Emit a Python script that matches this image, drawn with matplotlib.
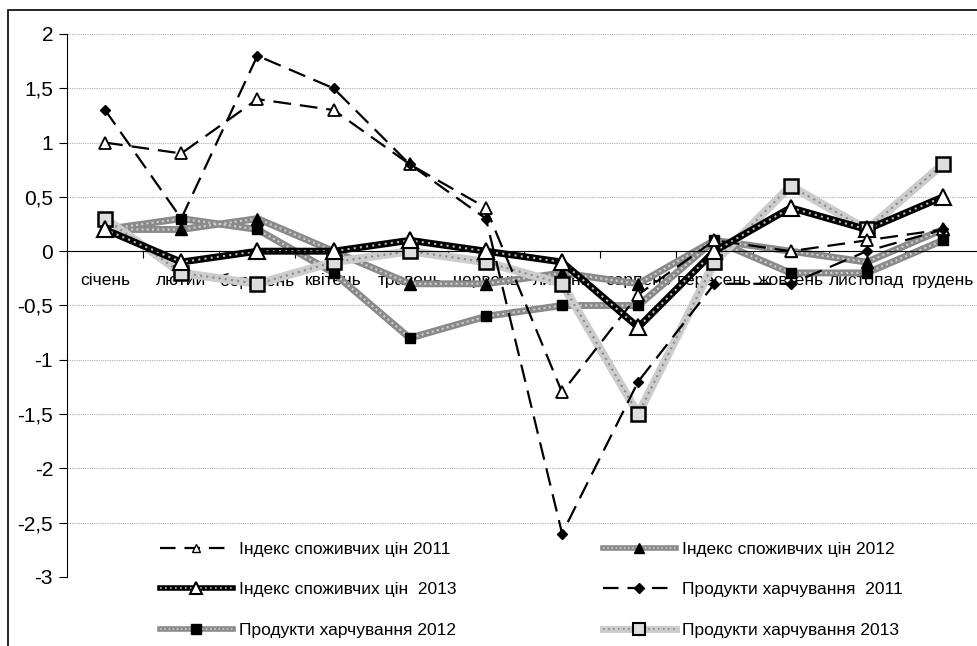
import matplotlib
matplotlib.use("Agg")
import numpy as np
from matplotlib import pyplot as plt
from matplotlib.lines import Line2D
from matplotlib.patches import Rectangle
from matplotlib.legend_handler import HandlerTuple

months = ["січень", "лютий", "березень", "квітень", "травень", "червень",
          "липень", "серпень", "вересень", "жовтень", "листопад", "грудень"]

isc_2011 = [1.0, 0.9, 1.4, 1.3, 0.8, 0.4, -1.3, -0.4, 0.1, 0.0, 0.1, 0.2]
isc_2012 = [0.2, 0.2, 0.3, 0.0, -0.3, -0.3, -0.2, -0.3, 0.1, 0.0, -0.1, 0.2]
isc_2013 = [0.2, -0.1, 0.0, 0.0, 0.1, 0.0, -0.1, -0.7, 0.0, 0.4, 0.2, 0.5]
food_2011 = [1.3, 0.3, 1.8, 1.5, 0.8, 0.3, -2.6, -1.2, -0.3, -0.3, 0.0, 0.2]
food_2012 = [0.2, 0.3, 0.2, -0.2, -0.8, -0.6, -0.5, -0.5, 0.1, -0.2, -0.2, 0.1]
food_2013 = [0.3, -0.2, -0.3, -0.1, 0.0, -0.1, -0.3, -1.5, -0.1, 0.6, 0.2, 0.8]

y_ticks = [2, 1.5, 1, 0.5, 0, -0.5, -1, -1.5, -2, -2.5, -3]

plt.rcParams['font.family'] = ['Liberation Sans', 'DejaVu Sans']

GRAY = "#8a8a8a"
GRAY_DOT = "#cfcfcf"
LIGHT = "#cccccc"


def main():
    fig = plt.figure(figsize=(9.78, 6.46), dpi=100)
    ax = fig.add_axes([67 / 978, 1 - 577 / 646, 914 / 978, 543 / 646])

    # рамка діаграми (обрізана справа і знизу)
    fig.patches.append(Rectangle((8 / 978, -0.1), 1.2, 1 - 10 / 646 + 0.1,
                                 transform=fig.transFigure, fill=False,
                                 edgecolor="black", linewidth=1.2))

    x = np.arange(len(months))

    # лінії
    ax.plot(x, food_2012, color=GRAY, lw=5, solid_capstyle="butt", zorder=2)
    ax.plot(x, food_2012, color=GRAY_DOT, lw=1.5, ls=(0, (1, 1.5)), zorder=2.1)
    ax.plot(x, isc_2012, color=GRAY, lw=5, solid_capstyle="butt", zorder=2)
    ax.plot(x, isc_2012, color=GRAY_DOT, lw=1.5, ls=(0, (1, 1.5)), zorder=2.1)
    ax.plot(x, food_2013, color=LIGHT, lw=6, solid_capstyle="butt", zorder=2.2)
    ax.plot(x, food_2013, color=GRAY, lw=1.5, ls=(0, (1, 2)), zorder=2.3)
    ax.plot(x, isc_2013, color="black", lw=5, solid_capstyle="butt", zorder=2.4)
    ax.plot(x, isc_2013, color="#bbbbbb", lw=1.5, ls=(0, (1, 2)), zorder=2.5)
    ax.plot(x, isc_2011, color="black", lw=1.6, ls=(0, (8, 4)), zorder=2.6)
    ax.plot(x, food_2011, color="black", lw=1.6, ls=(0, (8, 4)), zorder=2.6)

    # маркери
    ax.plot(x, food_2012, ls="none", marker="s", ms=7, mfc="black", mec="black", zorder=3)
    ax.plot(x, isc_2012, ls="none", marker="^", ms=8, mfc="black", mec="black", zorder=3)
    ax.plot(x, food_2013, ls="none", marker="s", ms=10, mfc="#dddddd", mec="black", mew=1.8, zorder=3)
    ax.plot(x, isc_2013, ls="none", marker="^", ms=11, mfc="white", mec="black", mew=1.5, zorder=3)
    ax.plot(x, isc_2011, ls="none", marker="^", ms=9, mfc="white", mec="black", mew=1.3, zorder=3)
    ax.plot(x, food_2011, ls="none", marker="D", ms=5.5, mfc="black", mec="black", zorder=3)

    ax.set_xlim(-0.5, len(months) - 0.5)
    ax.set_ylim(-3, 2)

    ax.spines['top'].set_visible(False)
    ax.spines['right'].set_visible(False)
    ax.spines['bottom'].set_position(('data', 0))

    ax.set_xticks(np.arange(-0.5, len(months) + 0.5, 1))
    ax.set_xticklabels([])
    ax.set_xticks(x, minor=True)
    ax.set_xticklabels(months, minor=True, fontsize=12.5)
    ax.tick_params(axis='x', which='minor', length=0, pad=16)
    ax.tick_params(axis='x', which='major', length=5, direction='out')

    ax.set_yticks(y_ticks)
    ax.set_yticklabels([("%g" % v).replace(".", ",") for v in y_ticks], fontsize=15)
    ax.tick_params(axis='y', length=6, direction='out', pad=4)
    ax.grid(axis='y', color="#b0b0b0", ls=(0, (1, 1)), lw=0.8)
    ax.set_axisbelow(True)

    # легенда
    h_isc11 = Line2D([], [], color="black", lw=1.6, ls=(0, (7, 4)), marker="^", ms=6, mfc="white", mec="black")
    h_isc12 = (Line2D([], [], color=GRAY, lw=4),
               Line2D([], [], color=GRAY_DOT, lw=1.2, ls=(0, (1, 1.5)), marker="^", ms=7, mfc="black", mec="black"))
    h_isc13 = (Line2D([], [], color="black", lw=4),
               Line2D([], [], color="#bbbbbb", lw=1.2, ls=(0, (1, 2)), marker="^", ms=9, mfc="white", mec="black", mew=1.5))
    h_food11 = Line2D([], [], color="black", lw=1.6, ls=(0, (7, 4)), marker="D", ms=5, mfc="black", mec="black")
    h_food12 = (Line2D([], [], color=GRAY, lw=4),
                Line2D([], [], color=GRAY_DOT, lw=1.2, ls=(0, (1, 1.5)), marker="s", ms=7, mfc="black", mec="black"))
    h_food13 = (Line2D([], [], color=LIGHT, lw=5),
                Line2D([], [], color=GRAY, lw=1.2, ls=(0, (1, 2)), marker="s", ms=8, mfc="#dddddd", mec="black", mew=1.5))

    kw = dict(loc="upper left", frameon=False, fontsize=12.5, handlelength=4.2,
              handletextpad=0.35, labelspacing=1.45, borderpad=0, borderaxespad=0,
              bbox_transform=fig.transFigure,
              handler_map={tuple: HandlerTuple(ndivide=1, pad=0)})
    leg1 = ax.legend([h_isc11, h_isc13, h_food12],
                     ["Індекс споживчих цін 2011", "Індекс споживчих цін  2013",
                      "Продукти харчування 2012"],
                     bbox_to_anchor=(160 / 978, 1 - 542 / 646), **kw)
    ax.add_artist(leg1)
    ax.legend([h_isc12, h_food11, h_food13],
              ["Індекс споживчих цін 2012", "Продукти харчування  2011",
               "Продукти харчування 2013"],
              bbox_to_anchor=(603 / 978, 1 - 542 / 646), **kw)

    fig.savefig("out.png", dpi=100)


if __name__ == "__main__":
    main()
